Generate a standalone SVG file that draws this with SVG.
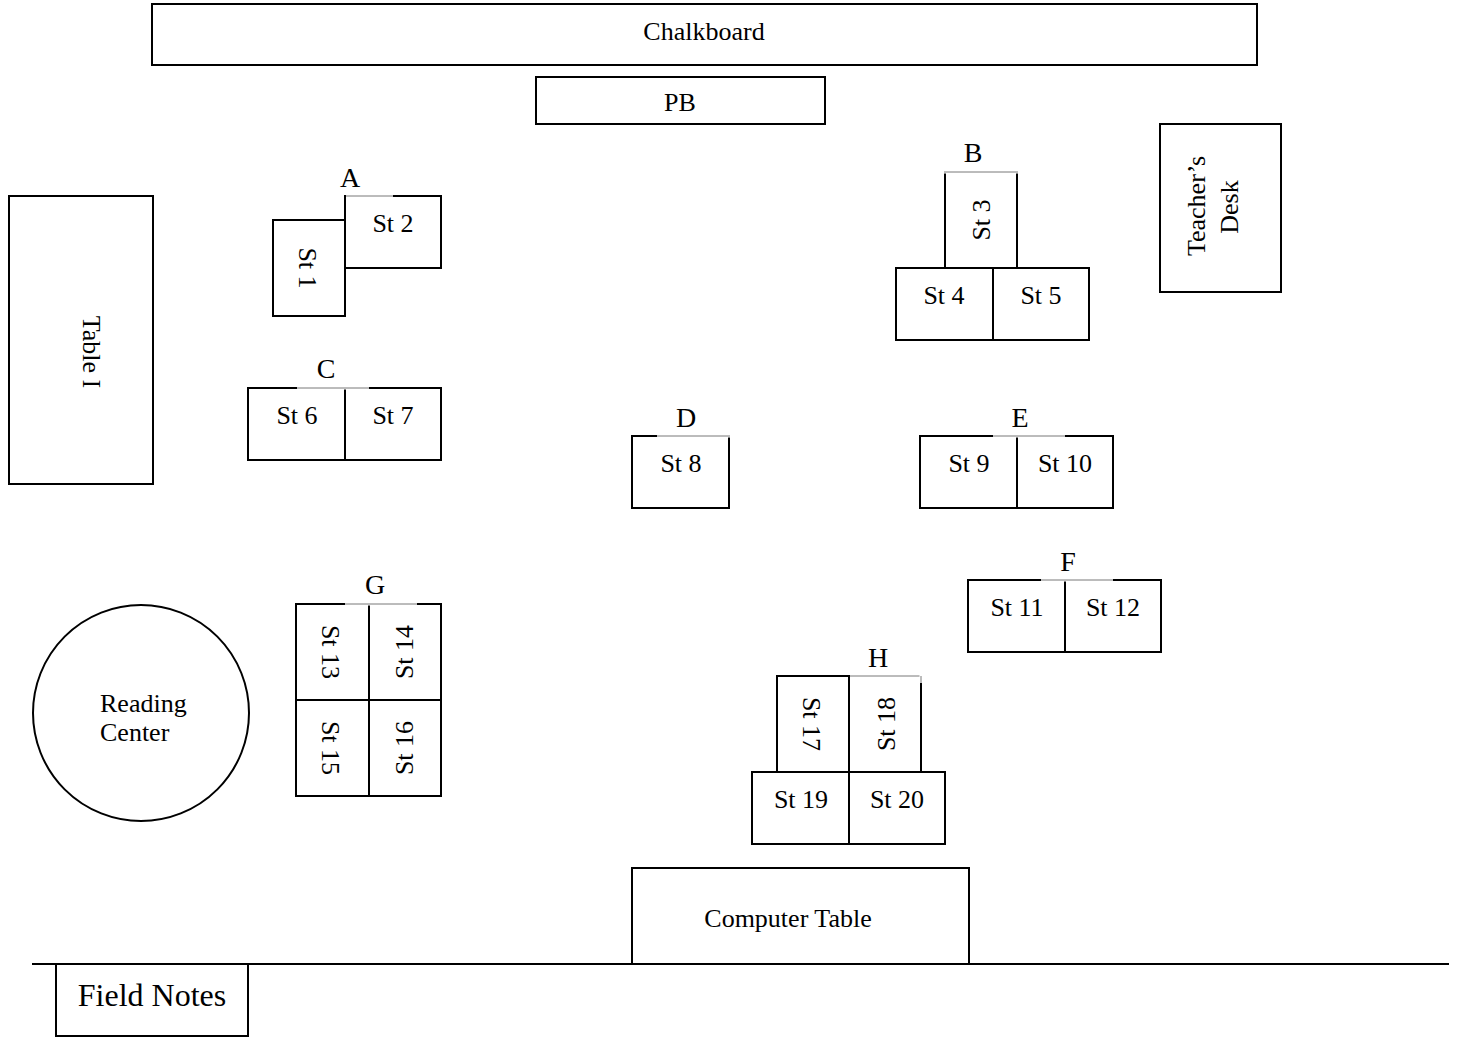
<svg xmlns="http://www.w3.org/2000/svg" width="1457" height="1038" viewBox="0 0 1457 1038">
<style>
  .b{fill:#fff;stroke:#000;stroke-width:2}
  .t{font-family:"Liberation Serif","Times New Roman",serif;font-size:26px;fill:#000;text-anchor:middle}
  .l{font-size:28px}
  .s{text-anchor:start}
  .gap{stroke:#fff;stroke-width:3}
  .thin{stroke:#555;stroke-width:0.8}
</style>
<rect width="1457" height="1038" fill="#fff"/>
<g id="chalkboard"><rect class="b" x="152" y="4" width="1105" height="61"/><text class="t" x="704" y="40">Chalkboard</text></g>
<g id="pb"><rect class="b" x="536" y="77" width="289" height="47"/><text class="t" x="680" y="111">PB</text></g>
<g id="teachers-desk"><rect class="b" x="1160" y="124" width="121" height="168"/>
  <text class="t" transform="translate(1205,206) rotate(-90)">Teacher’s</text>
  <text class="t" transform="translate(1238,207) rotate(-90)">Desk</text></g>
<g id="table-i"><rect class="b" x="9" y="196" width="144" height="288"/><text class="t" transform="translate(83,352) rotate(90)">Table I</text></g>

<g id="group-a">
  <rect class="b" x="273" y="220" width="72" height="96"/>
  <rect class="b" x="345" y="196" width="96" height="72"/>
  <line class="gap" x1="346" y1="196" x2="393" y2="196"/><line class="thin" x1="346" y1="196" x2="393" y2="196"/>
  <text class="t l" x="350" y="187">A</text>
  <text class="t" transform="translate(299,268) rotate(90)">St 1</text>
  <text class="t" x="393" y="232">St 2</text>
</g>
<g id="group-b">
  <rect class="b" x="945" y="172" width="72" height="96"/>
  <rect class="b" x="896" y="268" width="97" height="72"/>
  <rect class="b" x="993" y="268" width="96" height="72"/>
  <line class="gap" x1="944" y1="172" x2="1018" y2="172"/><line class="thin" x1="944" y1="172" x2="1018" y2="172"/>
  <text class="t l" x="973" y="162">B</text>
  <text class="t" transform="translate(990,220) rotate(-90)">St 3</text>
  <text class="t" x="944" y="304">St 4</text>
  <text class="t" x="1041" y="304">St 5</text>
</g>
<g id="group-c">
  <rect class="b" x="248" y="388" width="97" height="72"/>
  <rect class="b" x="345" y="388" width="96" height="72"/>
  <line class="gap" x1="297" y1="388" x2="369" y2="388"/><line class="thin" x1="297" y1="388" x2="369" y2="388"/>
  <text class="t l" x="326" y="378">C</text>
  <text class="t" x="297" y="424">St 6</text>
  <text class="t" x="393" y="424">St 7</text>
</g>
<g id="group-d">
  <rect class="b" x="632" y="436" width="97" height="72"/>
  <line class="gap" x1="657" y1="436" x2="730" y2="436"/><line class="thin" x1="657" y1="436" x2="730" y2="436"/>
  <text class="t l" x="686" y="427">D</text>
  <text class="t" x="681" y="472">St 8</text>
</g>
<g id="group-e">
  <rect class="b" x="920" y="436" width="97" height="72"/>
  <rect class="b" x="1017" y="436" width="96" height="72"/>
  <line class="gap" x1="993" y1="436" x2="1065" y2="436"/><line class="thin" x1="993" y1="436" x2="1065" y2="436"/>
  <text class="t l" x="1020" y="427">E</text>
  <text class="t" x="969" y="472">St 9</text>
  <text class="t" x="1065" y="472">St 10</text>
</g>
<g id="group-f">
  <rect class="b" x="968" y="580" width="97" height="72"/>
  <rect class="b" x="1065" y="580" width="96" height="72"/>
  <line class="gap" x1="1041" y1="580" x2="1113" y2="580"/><line class="thin" x1="1041" y1="580" x2="1113" y2="580"/>
  <text class="t l" x="1068" y="571">F</text>
  <text class="t" x="1017" y="616">St 11</text>
  <text class="t" x="1113" y="616">St 12</text>
</g>
<g id="group-g">
  <rect class="b" x="296" y="604" width="73" height="96"/>
  <rect class="b" x="369" y="604" width="72" height="96"/>
  <rect class="b" x="296" y="700" width="73" height="96"/>
  <rect class="b" x="369" y="700" width="72" height="96"/>
  <line class="gap" x1="345" y1="604" x2="417" y2="604"/><line class="thin" x1="345" y1="604" x2="417" y2="604"/>
  <text class="t l" x="375" y="594">G</text>
  <text class="t" transform="translate(322,652) rotate(90)">St 13</text>
  <text class="t" transform="translate(413,652) rotate(-90)">St 14</text>
  <text class="t" transform="translate(322,748) rotate(90)">St 15</text>
  <text class="t" transform="translate(413,748) rotate(-90)">St 16</text>
</g>
<g id="group-h">
  <rect class="b" x="777" y="676" width="72" height="96"/>
  <rect class="b" x="849" y="676" width="72" height="96"/>
  <rect class="b" x="752" y="772" width="97" height="72"/>
  <rect class="b" x="849" y="772" width="96" height="72"/>
  <line class="gap" x1="850" y1="676" x2="922" y2="676"/><line class="thin" x1="850" y1="676" x2="922" y2="676"/>
  <line class="gap" x1="921" y1="675" x2="921" y2="683"/><line class="thin" x1="921" y1="676" x2="921" y2="683"/>
  <text class="t l" x="878" y="667">H</text>
  <text class="t" transform="translate(803,724) rotate(90)">St 17</text>
  <text class="t" transform="translate(895,724) rotate(-90)">St 18</text>
  <text class="t" x="801" y="808">St 19</text>
  <text class="t" x="897" y="808">St 20</text>
</g>
<g id="reading-center">
  <circle class="b" cx="141" cy="713" r="108"/>
  <text class="t s" x="100" y="712">Reading</text>
  <text class="t s" x="100" y="741">Center</text>
</g>
<g id="wall"><line x1="32" y1="964" x2="1449" y2="964" stroke="#000" stroke-width="2"/></g>
<g id="computer-table"><rect class="b" x="632" y="868" width="337" height="96"/><text class="t" x="788" y="927">Computer Table</text></g>
<g id="field-notes"><rect class="b" x="56" y="964" width="192" height="72"/><text class="t" x="152" y="1006" style="font-size:32px">Field Notes</text></g>
</svg>
